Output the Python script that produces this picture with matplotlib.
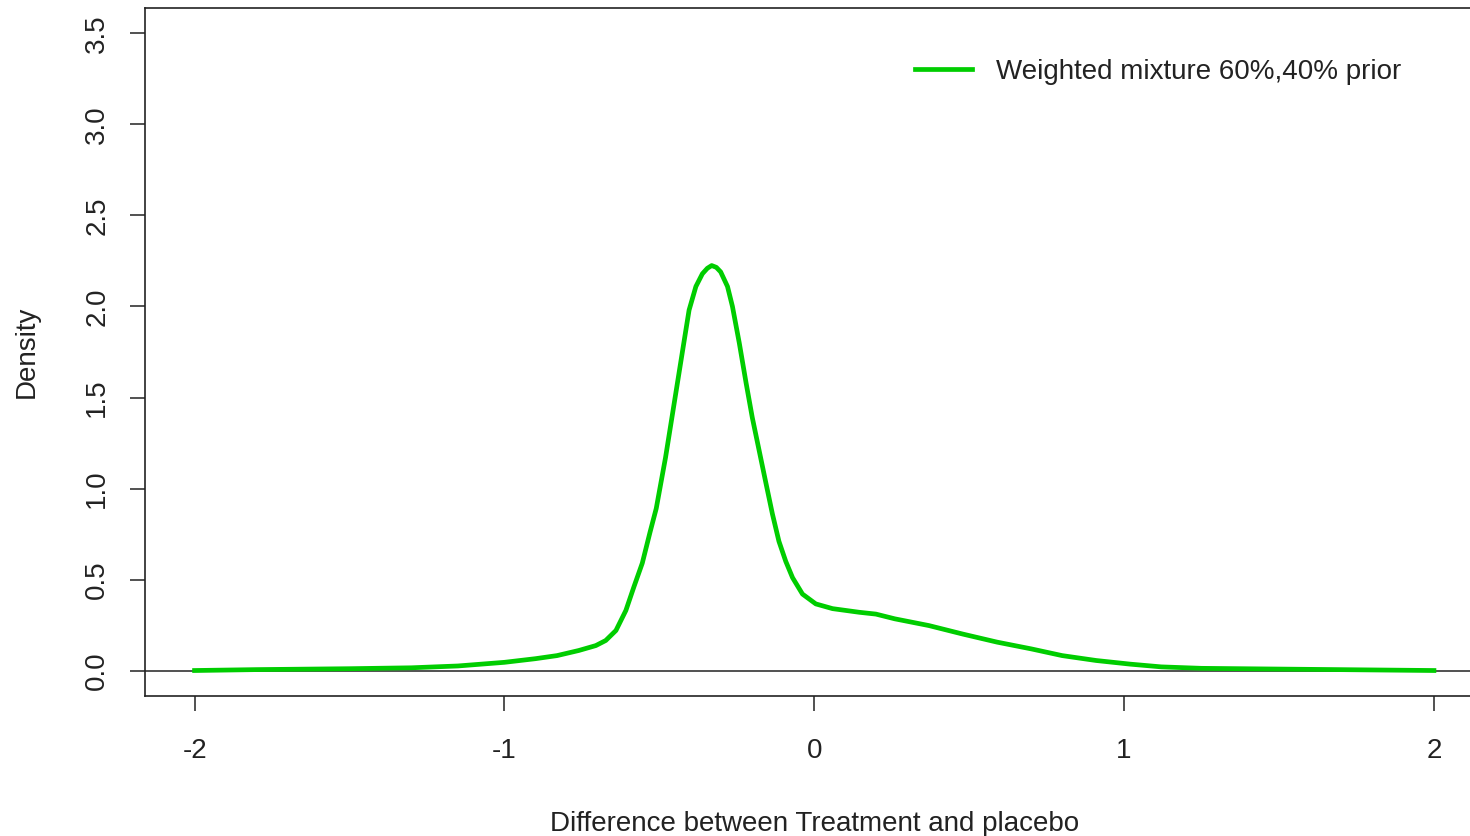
import numpy as np
import matplotlib.pyplot as plt

plt.rcParams['font.family'] = ['Liberation Sans', 'DejaVu Sans']

#==============================================================================
# Data
#==============================================================================

diff = [-2.0, -1.8, -1.5, -1.3, -1.15, -1.0, -0.9, -0.83, -0.76, -0.705, -0.673,
        -0.64, -0.608, -0.582, -0.555, -0.53, -0.51, -0.48, -0.45, -0.42, -0.404,
        -0.382, -0.361, -0.345, -0.331, -0.316, -0.302, -0.28, -0.264, -0.242,
        -0.22, -0.2, -0.178, -0.156, -0.135, -0.114, -0.092, -0.07, -0.038,
        0.005, 0.059, 0.145, 0.199, 0.26, 0.37, 0.48, 0.59, 0.70, 0.80, 0.91,
        1.02, 1.12, 1.25, 1.5, 1.75, 2.0]
dens = [0.0, 0.005, 0.01, 0.015, 0.025, 0.045, 0.065, 0.082, 0.11, 0.137, 0.165,
        0.22, 0.33, 0.46, 0.59, 0.76, 0.89, 1.17, 1.49, 1.81, 1.98,
        2.11, 2.18, 2.21, 2.225, 2.215, 2.19, 2.11, 2.00, 1.80,
        1.58, 1.39, 1.21, 1.03, 0.86, 0.71, 0.60, 0.51, 0.42,
        0.366, 0.34, 0.32, 0.31, 0.284, 0.247, 0.20, 0.156, 0.119, 0.082, 0.055,
        0.035, 0.02, 0.012, 0.008, 0.004, 0.0]

xticks = [-2, -1, 0, 1, 2]
yticks = [0.0, 0.5, 1.0, 1.5, 2.0, 2.5, 3.0, 3.5]
legend_label = "Weighted mixture 60%,40% prior"

#==============================================================================
# Plot
#==============================================================================

W, H = 1470., 836.
fig = plt.figure(figsize=(W/100, H/100), dpi=100)
# plot region in pixels: left 145, top 8, bottom 696, right ~1483 (cut off)
ax = fig.add_axes([145/W, 1-696/H, (1483.5-145)/W, (696-8)/H])

ax.plot(diff, dens, color="#00CD00", lw=3.4, solid_joinstyle="round", label=legend_label)
ax.axhline(0, color="#333333", lw=1.2, zorder=1)

ax.set_xlim(-2.16, 2.16)
ax.set_ylim(-0.14, 3.64)
ax.set_xticks(xticks)
ax.set_xticklabels(["%d" % v for v in xticks])
ax.set_yticks(yticks)
ax.set_yticklabels(["%.1f" % v for v in yticks], rotation=90, va="center")
ax.tick_params(direction="out", length=11, width=1.1, labelsize=20, colors="#222222",
               labelcolor="#222222")
ax.tick_params(axis="x", pad=19)
ax.tick_params(axis="y", pad=14)
for s in ax.spines.values():
    s.set_linewidth(1.2)
    s.set_color("#222222")

ax.set_xlabel("Difference between Treatment and placebo", fontsize=20, labelpad=34,
              color="#222222")
ax.set_ylabel("Density", fontsize=20, labelpad=32, color="#222222")

leg = ax.legend(loc="upper left", bbox_to_anchor=(915/W, 1-59/H), bbox_transform=fig.transFigure,
                frameon=False, fontsize=20, handlelength=2.05, handletextpad=0.85,
                borderpad=0, borderaxespad=0)
for t in leg.get_texts():
    t.set_color("#222222")

plt.savefig("out.png", dpi=100)
